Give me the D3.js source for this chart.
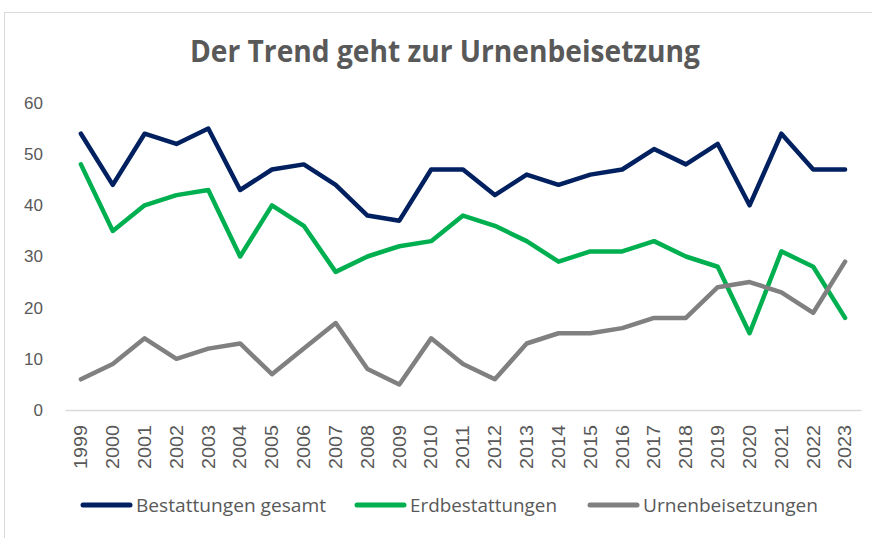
<!DOCTYPE html>
<html>
<head>
  <meta charset="UTF-8">
  <title>Der Trend geht zur Urnenbeisetzung</title>
  <script src="https://d3js.org/d3.v7.min.js"></script>
  <style>
    body { margin: 0; background: #fff; }
    svg { font-family: "Open Sans", sans-serif; }
    .tick text { fill: #595959; }
  </style>
</head>
<body>
  <svg></svg>
  <script>
    const years = d3.range(1999, 2024).map(String);
    const gesamt = [54, 44, 54, 52, 55, 43, 47, 48, 44, 38, 37, 47, 47, 42, 46, 44, 46, 47, 51, 48, 52, 40, 54, 47, 47];
    const erd = [48, 35, 40, 42, 43, 30, 40, 36, 27, 30, 32, 33, 38, 36, 33, 29, 31, 31, 33, 30, 28, 15, 31, 28, 18];
    const urnen = [6, 9, 14, 10, 12, 13, 7, 12, 17, 8, 5, 14, 9, 6, 13, 15, 15, 16, 18, 18, 24, 25, 23, 19, 29];
    const yTicks = [0, 10, 20, 30, 40, 50, 60];
    const series = [
      { name: 'Bestattungen gesamt', values: gesamt, color: '#002060' },
      { name: 'Erdbestattungen', values: erd, color: '#00B050' },
      { name: 'Urnenbeisetzungen', values: urnen, color: '#808080' }
    ];

    const W = 872, H = 538;
    const svg = d3.select('svg').attr('width', W).attr('height', H);

    // chart frame
    svg.append('rect')
      .attr('x', 4.5).attr('y', 12.5)
      .attr('width', W + 10).attr('height', H + 10)
      .attr('fill', '#fff').attr('stroke', '#d9d9d9');

    // Calibri is not available, so squeeze the wider fallback font to the original widths
    svg.append('text')
      .attr('x', 190).attr('y', 62)
      .attr('font-size', '30px')
      .attr('font-weight', 'bold')
      .attr('fill', '#595959')
      .attr('textLength', 510)
      .attr('lengthAdjust', 'spacingAndGlyphs')
      .text('Der Trend geht zur Urnenbeisetzung');

    const x = d3.scaleBand().domain(years).range([65, 861]);
    const y = d3.scaleLinear().domain([0, 60]).range([410, 103]);

    svg.append('g')
      .attr('transform', 'translate(0,410)')
      .call(d3.axisBottom(x).tickSize(0))
      .call(g => g.select('.domain').attr('stroke', '#d9d9d9').attr('stroke-width', 1.5))
      .selectAll('text')
      .attr('font-size', '18px')
      .attr('text-anchor', 'start')
      .attr('transform', 'rotate(-90)')
      .attr('x', -59)
      .attr('dy', '0.35em')
      .attr('y', 0)
      .attr('textLength', 44)
      .attr('lengthAdjust', 'spacingAndGlyphs');

    svg.append('g')
      .attr('transform', 'translate(46,0)')
      .call(d3.axisLeft(y).tickValues(yTicks).tickSize(0))
      .call(g => g.select('.domain').remove())
      .selectAll('text')
      .attr('font-size', '17px');

    const line = d3.line()
      .x((d, i) => x(years[i]) + x.bandwidth() / 2)
      .y(d => y(d));

    svg.selectAll('.series')
      .data(series)
      .enter().append('path')
      .attr('class', 'series')
      .attr('d', d => line(d.values))
      .attr('fill', 'none')
      .attr('stroke', d => d.color)
      .attr('stroke-width', 4.5)
      .attr('stroke-linejoin', 'round')
      .attr('stroke-linecap', 'round');

    const legendX = [83, 357, 590];
    const legendW = [190, 147, 175];
    const legend = svg.selectAll('.legend')
      .data(series)
      .enter().append('g')
      .attr('class', 'legend')
      .attr('transform', (d, i) => `translate(${legendX[i]},505)`);
    legend.append('line')
      .attr('x1', 0).attr('x2', 47)
      .attr('stroke', d => d.color)
      .attr('stroke-width', 5)
      .attr('stroke-linecap', 'round');
    legend.append('text')
      .attr('x', 53).attr('dy', '0.35em')
      .attr('font-size', '19px')
      .attr('fill', '#595959')
      .attr('textLength', (d, i) => legendW[i])
      .attr('lengthAdjust', 'spacingAndGlyphs')
      .text(d => d.name);
  </script>
</body>
</html>
